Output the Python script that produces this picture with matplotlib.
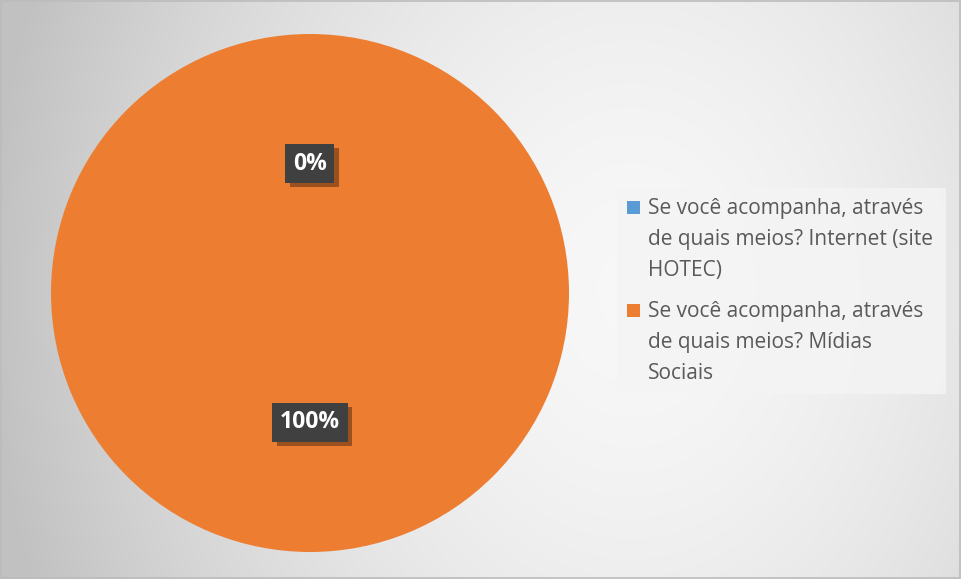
import numpy as np
import matplotlib
matplotlib.use("Agg")
import matplotlib.pyplot as plt
import matplotlib.patheffects as pe
from matplotlib.legend_handler import HandlerPatch

labels = ["Se você acompanha, através\nde quais meios? Internet (site\nHOTEC)",
          "Se você acompanha, através\nde quais meios? Mídias\nSociais"]
values = [0, 100]
colors = ["#5B9BD5", "#ED7D31"]

plt.rcParams['font.family'] = ['Open Sans', 'DejaVu Sans']
FS = 15
LSP = 1.62

W, H = 961, 579
fig = plt.figure(figsize=(W / 100, H / 100), dpi=100)

# soft radial gray background
bg = fig.add_axes([0, 0, 1, 1])
xx, yy = np.meshgrid(np.arange(W), np.arange(H))
d = np.sqrt(((xx - 630) / 640.0) ** 2 + ((yy - 290) / 800.0) ** 2)
d = np.clip(d, 0, 1)
shade = 0.97 - 0.21 * d ** 1.7
img = np.dstack([shade, shade, shade])
bg.imshow(img, aspect='auto', extent=[0, W, H, 0])
bg.set_xlim(0, W)
bg.set_ylim(H, 0)
bg.axis('off')
bg.add_patch(plt.Rectangle((0.5, 0.5), W - 1.5, H - 1.5, fill=False,
                           edgecolor='#bcbcbc', linewidth=1.2))

ax = fig.add_axes([51 / W, (H - 552) / H, 518 / W, 518 / H])
wedges, texts, autotexts = ax.pie(values, colors=colors, startangle=90,
                                  counterclock=False, autopct='%1.0f%%',
                                  pctdistance=0.5, radius=1.0,
                                  wedgeprops=dict(linewidth=0))
ax.set_xlim(-1, 1)
ax.set_ylim(-1, 1)
ax.set_aspect('equal')

for t in autotexts:
    t.set_fontsize(16.5)
    t.set_fontweight('bold')
    t.set_color('white')
    t.set_bbox(dict(boxstyle='square,pad=0.33', facecolor='#404040',
                    edgecolor='none'))
    t.get_bbox_patch().set_path_effects([
        pe.SimplePatchShadow(offset=(3, -3), shadow_rgbFace='black', alpha=0.35),
        pe.Normal()])


# put the legend square beside the first line of each label
def top_square(legend, orig_handle, xdescent, ydescent, width, height, fontsize):
    return plt.Rectangle((-xdescent, -ydescent + fontsize * LSP * 0.98), width, height)


leg = fig.legend(wedges, labels, loc='upper left',
                 bbox_to_anchor=(617 / W, 1 - 396 / H, 329 / W, 208 / H),
                 mode='expand', frameon=True, fancybox=False,
                 fontsize=FS, labelcolor='#595959', handlelength=0.58,
                 handleheight=0.58, handletextpad=0.42, labelspacing=0.95,
                 borderpad=0.5, borderaxespad=0,
                 handler_map={matplotlib.patches.Wedge: HandlerPatch(patch_func=top_square)})
leg.get_frame().set_facecolor('#f4f4f4')
leg.get_frame().set_alpha(0.85)
leg.get_frame().set_edgecolor('none')
for txt in leg.get_texts():
    txt.set_linespacing(LSP)

fig.savefig("out.png", dpi=100)
